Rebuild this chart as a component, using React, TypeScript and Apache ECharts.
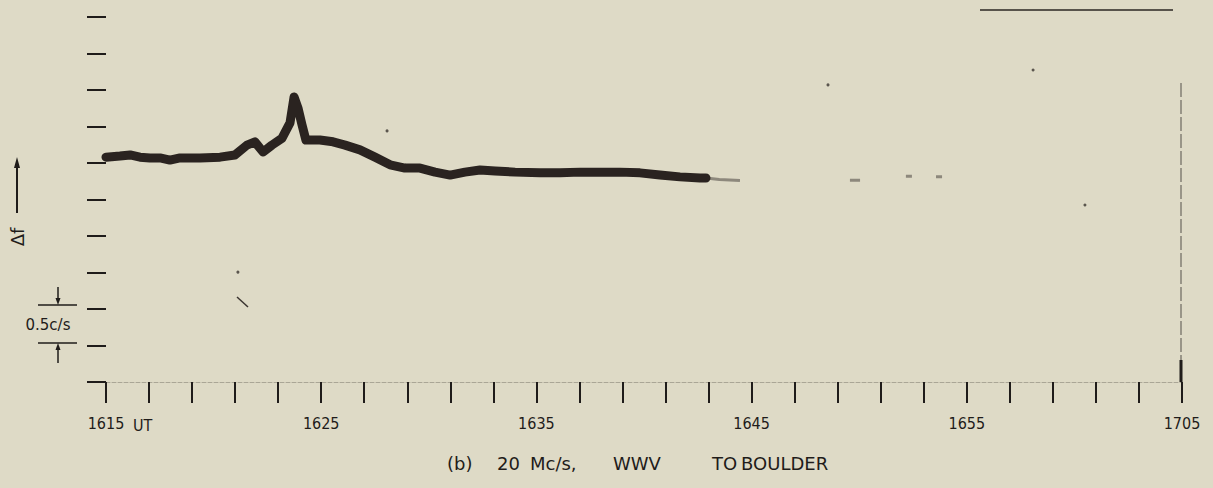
import React, { useEffect, useRef } from "react";
import * as echarts from "echarts";

// Minutes elapsed after 1615 UT, and frequency offset in units of 0.5 c/s (scale divisions)
const traceMinutes = [0, 0.65, 1.12, 1.58, 2.04, 2.51, 2.97, 3.44, 4.37, 5.3, 5.99, 6.55, 6.92, 7.3, 7.71, 8.18, 8.55, 8.74, 8.92, 9.11, 9.29, 9.94, 10.55, 11.11, 11.8, 12.5, 13.2, 13.89, 14.59, 15.29, 15.99, 16.68, 17.38, 18.08, 19.01, 20.17, 21.1, 22.03, 22.96, 23.88, 24.81, 25.74, 26.67, 27.6, 27.88];
const traceValues = [6.16, 6.19, 6.22, 6.16, 6.14, 6.14, 6.08, 6.14, 6.14, 6.16, 6.22, 6.49, 6.58, 6.3, 6.49, 6.68, 7.1, 7.81, 7.51, 7.04, 6.63, 6.63, 6.58, 6.49, 6.36, 6.16, 5.95, 5.86, 5.86, 5.75, 5.67, 5.75, 5.81, 5.78, 5.75, 5.73, 5.73, 5.75, 5.75, 5.75, 5.73, 5.67, 5.62, 5.59, 5.59];

// faint fragments after the trace fades (null = gap)
const faintMinutes = [27.88, 28.5, 29.46, 29.5, 34.57, 35.04, 35.1, 37.17, 37.45, 37.5, 38.57, 38.85];
const faintValues = [5.59, 5.55, 5.52, null, 5.53, 5.53, null, 5.64, 5.64, null, 5.62, 5.62];

// isolated specks on the record
const speckMinutes = [13.06, 33.55, 43.08, 45.49, 6.13];
const speckValues = [6.88, 8.14, 8.55, 4.85, 3.01];

const xLabelValues = [0, 10, 20, 30, 40, 50];
const xLabelTexts = ["1615", "1625", "1635", "1645", "1655", "1705"];

// caption words
const captionWords = ["(b)", "20", "Mc/s,", "WWV", "TO", "BOULDER"];

export default function App() {
  const ref = useRef<HTMLDivElement>(null);

  useEffect(() => {
    if (!ref.current) return;
    const chart = echarts.init(ref.current, undefined, { renderer: "svg" });
    const ink = "#1f1c1a";
    const trace = traceMinutes.map((m, i) => [m, traceValues[i]]);
    const faint = faintMinutes.map((m, i) => [m, faintValues[i] === null ? null : faintValues[i]]);
    const specks = speckMinutes.map((m, i) => [m, speckValues[i]]);
    const labelFont = "'DejaVu Sans Condensed', 'Liberation Sans Narrow', sans-serif";
    const captionX = [447, 497, 530, 613, 712, 741];

    chart.setOption({
      animation: false,
      backgroundColor: "#dedac6",
      grid: { left: 106, right: 31, top: 17, bottom: 106 },
      xAxis: {
        type: "value",
        min: 0,
        max: 50,
        interval: 2,
        axisLine: { show: true, lineStyle: { color: "#aaa696", width: 1, type: "dashed" } },
        axisTick: { show: true, length: 21, lineStyle: { color: ink, width: 2 } },
        axisLabel: {
          margin: 33,
          color: ink,
          fontFamily: labelFont,
          fontSize: 16,
          formatter: (v: number) => {
            const i = xLabelValues.indexOf(Math.round(v));
            return i >= 0 && Math.abs(v - Math.round(v)) < 1e-6 ? xLabelTexts[i] : "";
          },
        },
        splitLine: { show: false },
      },
      yAxis: {
        type: "value",
        min: 0,
        max: 10,
        interval: 1,
        axisLine: { show: false },
        axisTick: { show: true, length: 19, lineStyle: { color: ink, width: 2 } },
        axisLabel: { show: false },
        splitLine: { show: false },
      },
      series: [
        {
          type: "line",
          data: faint,
          symbol: "none",
          connectNulls: false,
          lineStyle: { color: "#8d887c", width: 3 },
          z: 2,
        },
        {
          type: "line",
          data: trace,
          symbol: "none",
          lineStyle: { color: "#2a2320", width: 9, join: "round", cap: "round" },
          z: 3,
        },
        {
          type: "scatter",
          data: specks,
          symbolSize: 3,
          itemStyle: { color: "#3a3430" },
          z: 3,
        },
      ],
      graphic: [
        // "UT" after first label
        { type: "text", x: 133, y: 425, style: { text: "UT", fill: ink, font: "16px " + labelFont, verticalAlign: "middle", align: "left" } },
        // caption
        ...captionWords.map((w, i) => ({
          type: "text",
          x: captionX[i],
          y: 463,
          style: { text: w, fill: ink, font: "18px 'DejaVu Sans'", verticalAlign: "middle", align: "left" },
        })),
        // Δf label with arrow
        { type: "text", x: 17, y: 237, rotation: Math.PI / 2, style: { text: "Δf", fill: ink, font: "18px 'DejaVu Sans'", verticalAlign: "middle", align: "center" } },
        { type: "line", shape: { x1: 17, y1: 213, x2: 17, y2: 164 }, style: { stroke: ink, lineWidth: 2 } },
        { type: "polygon", shape: { points: [[17, 157], [14, 168], [20, 168]] }, style: { fill: ink } },
        // 0.5 c/s scale marker
        { type: "line", shape: { x1: 38, y1: 305, x2: 77, y2: 305 }, style: { stroke: ink, lineWidth: 1.5 } },
        { type: "line", shape: { x1: 38, y1: 343, x2: 77, y2: 343 }, style: { stroke: ink, lineWidth: 1.5 } },
        { type: "line", shape: { x1: 58, y1: 287, x2: 58, y2: 300 }, style: { stroke: ink, lineWidth: 1.5 } },
        { type: "polygon", shape: { points: [[58, 305], [55.5, 298], [60.5, 298]] }, style: { fill: ink } },
        { type: "line", shape: { x1: 58, y1: 363, x2: 58, y2: 348 }, style: { stroke: ink, lineWidth: 1.5 } },
        { type: "polygon", shape: { points: [[58, 343], [55.5, 350], [60.5, 350]] }, style: { fill: ink } },
        { type: "text", x: 48, y: 325, style: { text: "0.5c/s", fill: ink, font: "15px 'DejaVu Sans'", verticalAlign: "middle", align: "center" } },
        // record edge marks at right and top
        { type: "line", shape: { x1: 1181, y1: 83, x2: 1181, y2: 360 }, style: { stroke: "#55514a", lineWidth: 1, lineDash: [14, 3] } },
        { type: "line", shape: { x1: 1181, y1: 360, x2: 1181, y2: 382 }, style: { stroke: ink, lineWidth: 3 } },
        { type: "line", shape: { x1: 980, y1: 10, x2: 1173, y2: 10 }, style: { stroke: "#2a2622", lineWidth: 1.5 } },
        // small stroke mark
        { type: "line", shape: { x1: 237, y1: 297, x2: 248, y2: 307 }, style: { stroke: "#3a3430", lineWidth: 1.5 } },
      ],
    });
    return () => chart.dispose();
  }, []);

  return (
    <div
      ref={ref}
      style={{ position: "fixed", left: 0, top: 0, width: 1213, height: 488 }}
    />
  );
}
